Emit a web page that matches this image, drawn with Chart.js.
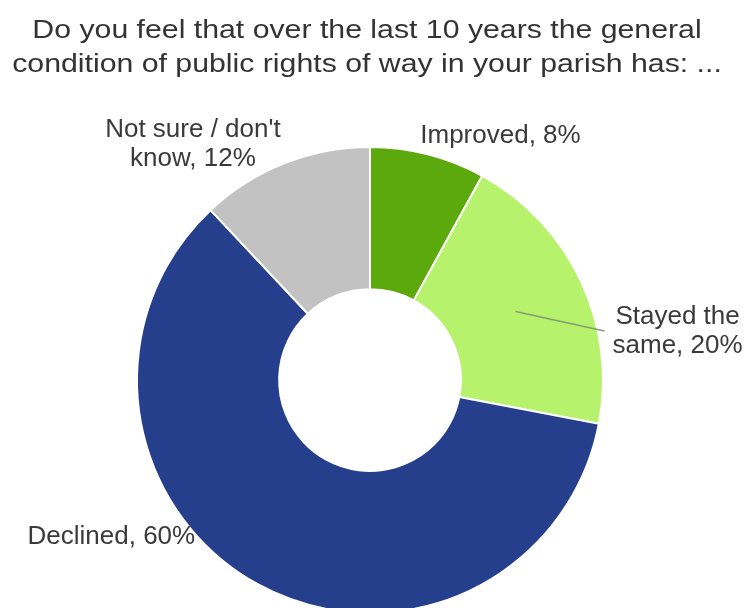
<!DOCTYPE html>
<html>
<head>
<meta charset="utf-8">
<script src="https://cdn.jsdelivr.net/npm/chart.js@4/dist/chart.umd.min.js"></script>
<style>
  html, body { margin: 0; padding: 0; background: #ffffff; }
  #wrap { width: 745px; height: 608px; position: relative; overflow: hidden; }
</style>
</head>
<body>
<div id="wrap"><canvas id="c" width="745" height="620"></canvas></div>
<script>
// Survey answers: change in condition of public rights of way
const titleLines = [
  'Do you feel that over the last 10 years the general',
  'condition of public rights of way in your parish has: ...'
];
const categories = ['Improved', 'Stayed the same', 'Declined', 'Not sure / don\'t know'];
const shares = [8, 20, 60, 12];
const labelLines = [
  ['Improved, 8%'],
  ['Stayed the', 'same, 20%'],
  ['Declined, 60%'],
  ['Not sure / don\'t', 'know, 12%']
];
const sliceColors = ['#5BA90C', '#B6F26C', '#263F8C', '#C2C2C2'];

const FONT = '"Liberation Sans", Arial, sans-serif';

// Where each slice label sits, as fractions of the outer radius from the centre
const labelPlacement = [
  { fx: 0.56, fy: -1.05 },
  { fx: 1.32, fy: -0.21, leader: true },
  { fx: -1.11, fy: 0.672 },
  { fx: -0.76, fy: -1.01 }
];

// Two-line heading above the ring, set slightly wide
const headingPlugin = {
  id: 'heading',
  afterDraw(chart) {
    const ctx = chart.ctx;
    ctx.save();
    ctx.font = '25px ' + FONT;
    ctx.fillStyle = '#333333';
    ctx.textAlign = 'center';
    ctx.textBaseline = 'alphabetic';
    const stretch = 1.21;
    ctx.translate(367, 0);
    ctx.scale(stretch, 1);
    titleLines.forEach((t, k) => ctx.fillText(t, 0, 38 + k * 34));
    ctx.restore();
  }
};

const sliceLabels = {
  id: 'sliceLabels',
  afterDatasetsDraw(chart) {
    const ctx = chart.ctx;
    const meta = chart.getDatasetMeta(0);
    ctx.save();
    ctx.font = '26px ' + FONT;
    ctx.fillStyle = '#3a3a3a';
    ctx.textAlign = 'center';
    ctx.textBaseline = 'middle';
    const lh = 29;
    meta.data.forEach((arc, i) => {
      const R = arc.outerRadius;
      const cx = arc.x, cy = arc.y;
      const p = labelPlacement[i];
      const x = cx + p.fx * R;
      const y = cy + p.fy * R;
      const lines = labelLines[i];
      const y0 = y - (lines.length - 1) * lh / 2;
      lines.forEach((t, k) => ctx.fillText(t, x, y0 + k * lh));
      if (p.leader) {
        const mid = (arc.startAngle + arc.endAngle) / 2;
        const sx = cx + Math.cos(mid) * R * 0.69;
        const sy = cy + Math.sin(mid) * R * 0.69;
        let wMax = 0;
        lines.forEach(t => { wMax = Math.max(wMax, ctx.measureText(t).width); });
        const ex = x - wMax / 2 - 8;
        const ey = y;
        ctx.strokeStyle = '#7f9f74';
        ctx.lineWidth = 1.5;
        ctx.beginPath();
        ctx.moveTo(sx, sy);
        ctx.lineTo(ex, ey);
        ctx.stroke();
      }
    });
    ctx.restore();
  }
};

new Chart(document.getElementById('c'), {
  type: 'doughnut',
  data: {
    labels: categories,
    datasets: [{
      data: shares,
      backgroundColor: sliceColors,
      borderColor: '#ffffff',
      borderWidth: 2,
      hoverOffset: 0
    }]
  },
  options: {
    responsive: false,
    animation: false,
    cutout: '39%',
    rotation: 0,
    layout: { padding: { left: 136, right: 141, top: 146, bottom: 6 } },
    plugins: {
      legend: { display: false },
      tooltip: { enabled: false },
      title: { display: false }
    }
  },
  plugins: [sliceLabels, headingPlugin]
});
</script>
</body>
</html>
